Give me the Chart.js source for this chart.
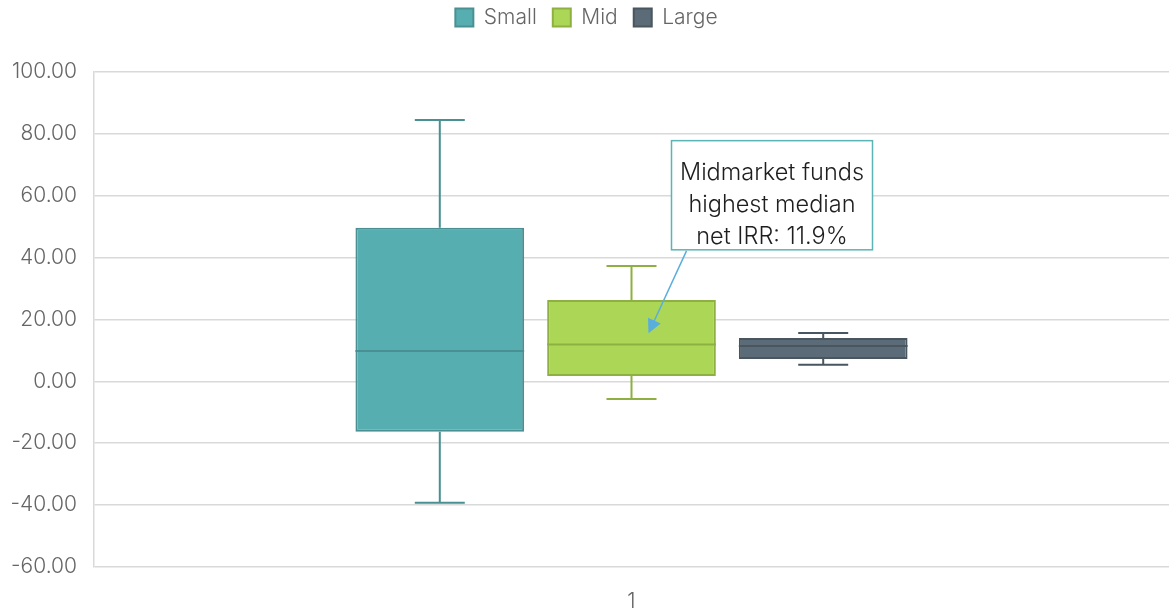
<!DOCTYPE html>
<html>
<head>
<meta charset="utf-8">
<script src="https://cdn.jsdelivr.net/npm/chart.js@4.4.1/dist/chart.umd.min.js"></script>
<style>
  html, body { margin: 0; padding: 0; background: #fff; }
  #wrap { width: 1169px; height: 613px; position: relative; }
</style>
</head>
<body>
<div id="wrap"><canvas id="box"></canvas></div>
<script>
// box plot data: [min, q1, median, q3, max]
const categories = ['1'];
const seriesNames = ['Small', 'Mid', 'Large'];
const smallStats = [-39.3, -16.3, 9.8, 49.6, 84.5];
const midStats = [-5.7, 1.7, 11.9, 26.3, 37.3];
const largeStats = [5.3, 7.2, 11.4, 14.0, 15.6];
const yTicks = [-60, -40, -20, 0, 20, 40, 60, 80, 100];
const noteLines = ['Midmarket funds', 'highest median', 'net IRR: 11.9%'];

const allStats = [smallStats, midStats, largeStats];
const fills = ['#57aeb0', '#acd655', '#5b6b77'];
const edges = ['#4a9092', '#8eb042', '#49565f'];
const fontName = 'Inter, "Noto Sans", sans-serif';

// whiskers + median line on top of the floating bars
const whiskers = {
  id: 'whiskers',
  afterDatasetsDraw(chart) {
    const ctx = chart.ctx, y = chart.scales.y;
    allStats.forEach((s, i) => {
      const bar = chart.getDatasetMeta(i).data[0];
      if (!bar) return;
      const half = bar.width / 2;
      ctx.save();
      ctx.strokeStyle = edges[i];
      ctx.lineWidth = 2;
      ctx.beginPath();
      // median
      ctx.moveTo(bar.x - half, y.getPixelForValue(s[2]));
      ctx.lineTo(bar.x + half, y.getPixelForValue(s[2]));
      // upper whisker
      ctx.moveTo(bar.x, y.getPixelForValue(s[3]));
      ctx.lineTo(bar.x, y.getPixelForValue(s[4]));
      ctx.moveTo(bar.x - 25, y.getPixelForValue(s[4]));
      ctx.lineTo(bar.x + 25, y.getPixelForValue(s[4]));
      // lower whisker
      ctx.moveTo(bar.x, y.getPixelForValue(s[1]));
      ctx.lineTo(bar.x, y.getPixelForValue(s[0]));
      ctx.moveTo(bar.x - 25, y.getPixelForValue(s[0]));
      ctx.lineTo(bar.x + 25, y.getPixelForValue(s[0]));
      ctx.stroke();
      ctx.restore();
    });
  }
};

// callout box with arrow pointing into the Mid box
const callout = {
  id: 'callout',
  afterDraw(chart) {
    const ctx = chart.ctx, y = chart.scales.y;
    const mid = chart.getDatasetMeta(1).data[0];
    if (!mid) return;
    const bx = mid.x + 40, by = y.getPixelForValue(77.8);
    const bw = 201, bh = y.getPixelForValue(42.5) - by;
    const tipX = mid.x + 17, tipY = y.getPixelForValue(15.5);
    const fromX = bx + 15, fromY = by + bh + 1;
    ctx.save();
    ctx.fillStyle = '#fff';
    ctx.fillRect(bx, by, bw, bh);
    ctx.strokeStyle = '#5bb5b5';
    ctx.lineWidth = 1.5;
    ctx.strokeRect(bx, by, bw, bh);
    ctx.fillStyle = '#1e1e1e';
    ctx.font = '300 23.5px ' + fontName;
    ctx.textAlign = 'center';
    ctx.textBaseline = 'middle';
    noteLines.forEach((t, k) => ctx.fillText(t, bx + bw / 2, by + 32 + k * 32));
    // arrow
    const ang = Math.atan2(tipY - fromY, tipX - fromX);
    ctx.strokeStyle = '#5aaedc';
    ctx.fillStyle = '#5aaedc';
    ctx.lineWidth = 1.5;
    ctx.beginPath();
    ctx.moveTo(fromX, fromY);
    ctx.lineTo(tipX - 10 * Math.cos(ang), tipY - 10 * Math.sin(ang));
    ctx.stroke();
    ctx.beginPath();
    ctx.moveTo(tipX, tipY);
    ctx.lineTo(tipX - 14 * Math.cos(ang) + 7 * Math.sin(ang), tipY - 14 * Math.sin(ang) - 7 * Math.cos(ang));
    ctx.lineTo(tipX - 14 * Math.cos(ang) - 7 * Math.sin(ang), tipY - 14 * Math.sin(ang) + 7 * Math.cos(ang));
    ctx.closePath();
    ctx.fill();
    ctx.restore();
  }
};

// leave room under the legend
const legendGap = {
  id: 'legendGap',
  beforeInit(chart) {
    const fit = chart.legend.fit;
    chart.legend.fit = function() {
      fit.call(this);
      this.height += 34;
    };
  }
};

new Chart(document.getElementById('box'), {
  type: 'bar',
  data: {
    labels: categories,
    datasets: seriesNames.map((name, i) => ({
      label: name,
      data: [[allStats[i][1], allStats[i][3]]],
      backgroundColor: fills[i],
      borderColor: edges[i],
      borderWidth: 2,
      borderSkipped: false
    }))
  },
  options: {
    responsive: true,
    maintainAspectRatio: false,
    animation: false,
    layout: { padding: { top: -9, right: 0, left: 4, bottom: -15 } },
    datasets: { bar: { categoryPercentage: 0.535, barPercentage: 0.88 } },
    plugins: {
      tooltip: { enabled: false },
      legend: {
        position: 'top',
        labels: {
          boxWidth: 18, boxHeight: 18, padding: 16,
          color: '#666',
          font: { family: fontName, size: 21, weight: 300 }
        }
      }
    },
    scales: {
      x: {
        grid: { display: false },
        border: { display: false },
        ticks: { color: '#666', font: { family: fontName, size: 21, weight: 300 }, padding: 14 }
      },
      y: {
        min: -60, max: 100,
        afterBuildTicks: axis => { axis.ticks = yTicks.map(v => ({ value: v })); },
        afterFit: axis => { axis.width = 90; },
        grid: { color: '#d9d9d9', lineWidth: 1.5, drawTicks: false },
        border: { display: true, color: '#d9d9d9', width: 1.5 },
        ticks: {
          color: '#666', padding: 17,
          font: { family: fontName, size: 21, weight: 300 },
          callback: v => v.toFixed(2)
        }
      }
    }
  },
  plugins: [whiskers, callout, legendGap]
});
</script>
</body>
</html>
